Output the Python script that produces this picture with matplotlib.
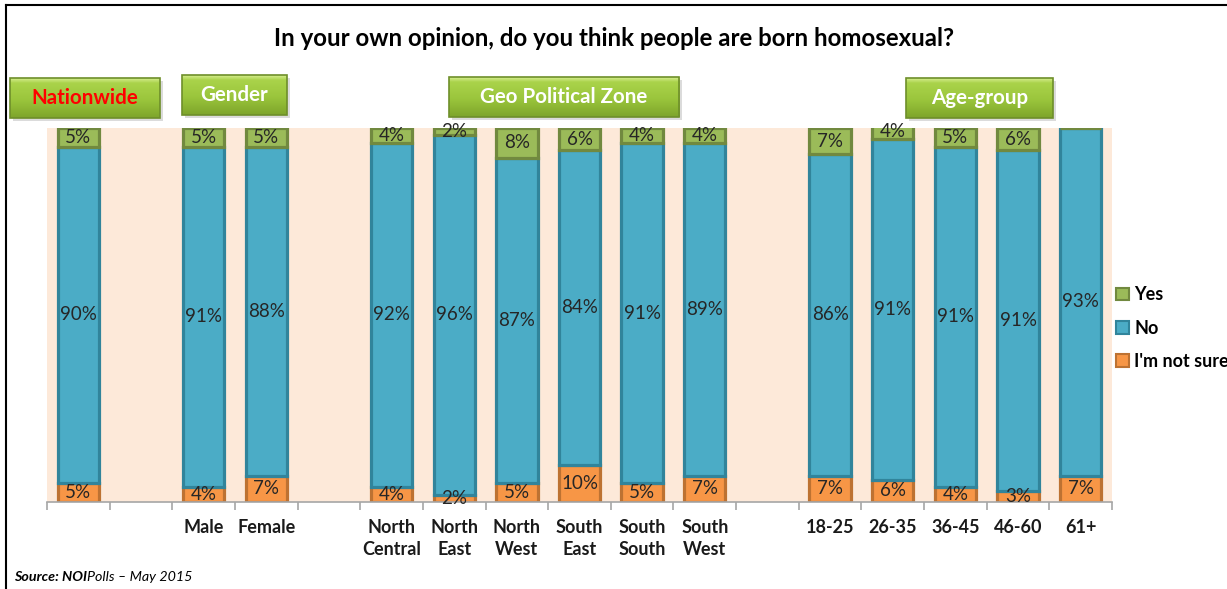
import matplotlib.pyplot as plt
import numpy as np
from matplotlib.patches import Rectangle, Patch
from matplotlib.colors import LinearSegmentedColormap
from matplotlib.lines import Line2D

plt.rcParams['font.family'] = ['Lato', 'DejaVu Sans']

W, H = 1227, 589

# survey groups and their bars
groups = ['Nationwide', 'Gender', 'Geo Political Zone', 'Age-group']
group_labels = [
    [''],
    ['Male', 'Female'],
    ['North\nCentral', 'North\nEast', 'North\nWest', 'South\nEast', 'South\nSouth', 'South\nWest'],
    ['18-25', '26-35', '36-45', '46-60', '61+'],
]
yes = [5, 5, 5, 4, 2, 8, 6, 4, 4, 7, 4, 5, 6, 0]
no = [90, 91, 88, 92, 96, 87, 84, 91, 89, 86, 91, 91, 91, 93]
not_sure = [5, 4, 7, 4, 2, 5, 10, 5, 7, 7, 6, 4, 3, 7]

# one empty slot between groups
pos, labels = [], []
slot = 0
for lab in group_labels:
    for l in lab:
        pos.append(slot)
        labels.append(l)
        slot += 1
    slot += 1
n_slots = slot - 1
pos = np.array(pos)

fig = plt.figure(figsize=(W / 100, H / 100), dpi=100)
fig.patch.set_facecolor('white')


def px(x, y):
    return x / W, 1 - y / H


ax = fig.add_axes([47 / W, 1 - 502 / H, 1065 / W, 374 / H])
ax.set_facecolor('#FDE9D9')

bw = 0.66
series = [
    ("I'm not sure", not_sure, '#F79646', '#BD7232'),
    ('No', no, '#4BACC6', '#31849B'),
    ('Yes', yes, '#9BBB59', '#71893F'),
]
bottom = np.zeros(len(pos))
handles = {}
for name, vals, fc, ec in series:
    vals = np.array(vals)
    ax.bar(pos, vals, bw, bottom=bottom, color=fc, edgecolor=ec,
           linewidth=2.3, zorder=2)
    handles[name] = Patch(facecolor=fc, edgecolor=ec, linewidth=1.5, label=name)
    for x, b, v in zip(pos, bottom, vals):
        if v > 0:
            ax.text(x, b + v / 2, f'{v}%', ha='center', va='center',
                    fontsize=13.5, color='#262626', zorder=3)
    bottom = bottom + vals

ax.set_xlim(-0.5, n_slots - 0.5)
ax.set_ylim(0, 100)
ax.set_yticks([])
for s in ['left', 'right', 'top']:
    ax.spines[s].set_visible(False)
ax.spines['bottom'].set_color('#A6A6A6')
ax.spines['bottom'].set_linewidth(1.2)

ax.set_xticks(pos)
ax.set_xticklabels(labels, fontsize=13, fontweight='bold', color='#1a1a1a')
for t in ax.get_xticklabels():
    t.set_linespacing(1.35)
ax.tick_params(axis='x', which='major', length=0, pad=12.5)
ax.set_xticks(np.arange(-0.5, n_slots, 1.0), minor=True)
ax.tick_params(axis='x', which='minor', length=6, width=1.2, color='#A6A6A6')

# legend, top series first
fig.legend(handles=[handles['Yes'], handles['No'], handles["I'm not sure"]],
           loc='center left', bbox_to_anchor=px(1116, 328), frameon=False,
           prop={'weight': 'bold', 'size': 13}, handlelength=0.7,
           handleheight=0.7, handletextpad=0.3, labelspacing=0.9,
           borderaxespad=0, borderpad=0)

fig.text(*px(614, 38), 'In your own opinion, do you think people are born homosexual?',
         ha='center', va='center', fontsize=17.3, fontweight='bold', color='black')

# green group header boxes
green = LinearSegmentedColormap.from_list(
    'hdr', [(0, '#D4EC8C'), (0.12, '#AAD34A'), (0.55, '#9AC53C'), (1, '#7EA52B')])
boxes = [(10, 78, 150, 40), (182, 75, 105, 40), (449, 77, 230, 40), (906, 78, 147, 40)]
text_colors = ['#FF0000', 'white', 'white', 'white']
for (x0, y0, w, h), name, tc in zip(boxes, groups, text_colors):
    sx, sy = px(x0 + 3, y0 + h + 3)
    fig.patches.append(Rectangle((sx, sy), w / W, h / H, transform=fig.transFigure,
                                 facecolor='#9a9a9a', alpha=0.35, edgecolor='none',
                                 zorder=0.5))
    bax = fig.add_axes([x0 / W, 1 - (y0 + h) / H, w / W, h / H])
    bax.set_zorder(1)
    bax.imshow(np.linspace(0, 1, 60).reshape(-1, 1), aspect='auto', cmap=green,
               extent=[0, 1, 0, 1])
    bax.add_patch(Rectangle((0, 0), 1, 1, transform=bax.transAxes, fill=False,
                            edgecolor='#6E8F2A', linewidth=1.2, clip_on=False))
    bax.set_axis_off()
    bax.text(0.5, 0.5, name, transform=bax.transAxes, ha='center', va='center',
             fontsize=14.8, fontweight='bold', color=tc)

# source line
src = fig.text(*px(14, 577), 'Source: NOI', ha='left', va='center', fontsize=10.3,
               fontweight='bold', style='italic', color='black')
ax.annotate('Polls \u2013 May 2015', xy=(1, 0), xycoords=src, xytext=(0, 0),
            textcoords='offset points', ha='left', va='bottom', fontsize=10.3,
            style='italic', color='black', annotation_clip=False)

# outer frame on top and left
fig.add_artist(Line2D([6 / W, 1], [1 - 5 / H, 1 - 5 / H], transform=fig.transFigure,
                      color='black', linewidth=1.5))
fig.add_artist(Line2D([6 / W, 6 / W], [0, 1 - 5 / H], transform=fig.transFigure,
                      color='black', linewidth=1.5))

fig.savefig('out.png', dpi=100)
